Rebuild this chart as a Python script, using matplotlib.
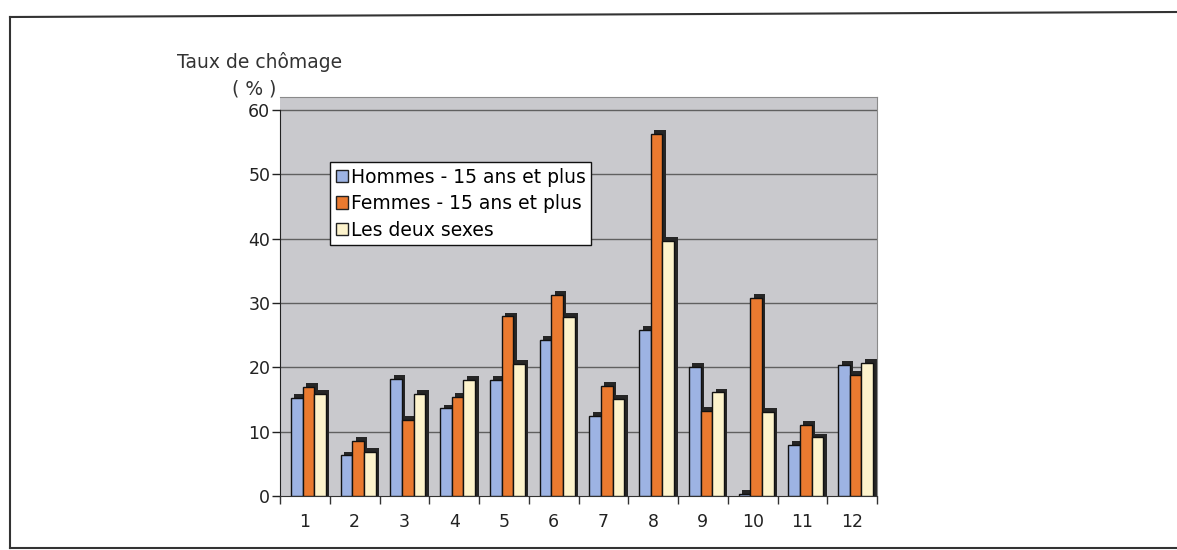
import numpy as np
import matplotlib
matplotlib.use("Agg")
import matplotlib.pyplot as plt
from matplotlib.lines import Line2D
from matplotlib.patches import Patch

# unemployment rate per area, three series
categories = [str(i) for i in range(1, 13)]
hommes = [15.2, 6.3, 18.2, 13.6, 18.0, 24.3, 12.4, 25.8, 20.0, 0.3, 8.0, 20.3]
femmes = [17.0, 8.6, 11.8, 15.4, 27.9, 31.3, 17.1, 56.3, 13.2, 30.8, 11.0, 18.8]
deux_sexes = [15.9, 6.9, 15.9, 18.0, 20.5, 27.8, 15.1, 39.7, 16.1, 13.1, 9.1, 20.7]
series_names = ["Hommes - 15 ans et plus", "Femmes - 15 ans et plus", "Les deux sexes"]
colors = ["#9db3e3", "#ea7a30", "#fdf3cc"]
yticks = [0, 10, 20, 30, 40, 50, 60]

W, H = 1177, 550
fig = plt.figure(figsize=(W / 100, H / 100), dpi=100)
fig.patch.set_facecolor("white")

ax = fig.add_axes([280 / W, 1 - 496 / H, 597 / W, 399 / H])
ax.set_facecolor("#c9c9cd")

x = np.arange(1, 13)
width = 0.235
offsets = [-0.165, 0.07, 0.305]
for vals, off, col in zip([hommes, femmes, deux_sexes], offsets, colors):
    # dark side/top of the pseudo 3D columns
    ax.bar(x + off + 0.07, np.array(vals) + 0.6, width, color="#262626",
           edgecolor="none", zorder=2)
for vals, off, col, name in zip([hommes, femmes, deux_sexes], offsets, colors, series_names):
    ax.bar(x + off, vals, width, color=col, edgecolor="#111111", lw=1.0,
           zorder=3, label=name)

ax.set_xlim(0.5, 12.5)
ax.set_ylim(0, 62)
ax.set_yticks(yticks)
ax.set_yticklabels([str(t) for t in yticks], fontsize=12.5)
ax.tick_params(axis="y", direction="out", length=6, width=1, colors="#222222", pad=1)
for t in yticks[1:]:
    ax.axhline(t, color="#606060", lw=1.0, zorder=1)

ax.set_xticks(x)
ax.set_xticklabels(categories, fontsize=12.5)
ax.set_xticks(np.arange(0.5, 13, 1), minor=True)
ax.tick_params(axis="x", which="major", length=0, pad=12, colors="#222222")
ax.tick_params(axis="x", which="minor", length=6, width=1, direction="out", color="#333333")

ax.spines["left"].set_bounds(0, 60)
ax.spines["left"].set_color("#222222")
ax.spines["bottom"].set_color("#333333")
ax.spines["top"].set_color("#8a8a8a")
ax.spines["right"].set_color("#8a8a8a")

fig.text(260 / W, 1 - 62 / H, "Taux de chômage", ha="center", va="center",
         fontsize=13.5, color="#333333")
fig.text(254 / W, 1 - 89 / H, "( % )", ha="center", va="center",
         fontsize=13.5, color="#333333")

handles = [Patch(facecolor=c, edgecolor="#222222", lw=1) for c in colors]
leg = fig.legend(handles, series_names, loc="upper left",
                 bbox_to_anchor=(330 / W, 1 - 162 / H), fontsize=13.5,
                 frameon=True, fancybox=False, handlelength=0.65, handleheight=0.65,
                 handletextpad=0.15, borderpad=0.3, labelspacing=0.4,
                 borderaxespad=0, framealpha=1)
leg.get_frame().set_facecolor("white")
leg.get_frame().set_edgecolor("#111111")
leg.get_frame().set_linewidth(1.0)
leg.set_zorder(5)

# outer frame
fig.add_artist(Line2D([10 / W, 10 / W], [1 - 17 / H, 1 - 548 / H], color="#333333", lw=1.5))
fig.add_artist(Line2D([10 / W, 1], [1 - 17 / H, 1 - 12 / H], color="#333333", lw=1.5))
fig.add_artist(Line2D([10 / W, 1], [1 - 548 / H, 1 - 548 / H], color="#333333", lw=1.5))

fig.savefig("out.png", dpi=100)
